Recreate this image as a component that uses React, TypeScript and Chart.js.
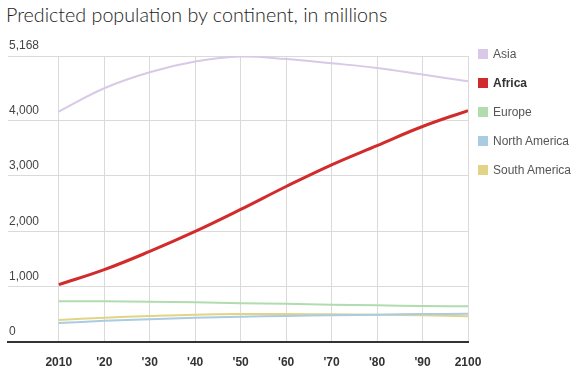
import React, { useEffect, useRef } from "react";
import { Chart, registerables } from "chart.js";

Chart.register(...registerables);

const YEARS = [2010, 2020, 2030, 2040, 2050, 2060, 2070, 2080, 2090, 2100];
const X_TICK_LABELS = ["2010", "'20", "'30", "'40", "'50", "'60", "'70", "'80", "'90", "2100"];
const Y_TICKS = [0, 1000, 2000, 3000, 4000, 5168];

const SERIES_NAMES = ["Asia", "Africa", "Europe", "North America", "South America"];
const ASIA = [4164, 4585, 4874, 5067, 5160, 5112, 5036, 4953, 4832, 4711];
const AFRICA = [1036, 1307, 1637, 1998, 2395, 2810, 3202, 3550, 3894, 4182];
const EUROPE = [738, 736, 729, 717, 700, 690, 675, 662, 650, 644];
const NORTH_AMERICA = [343, 382, 410, 436, 456, 470, 483, 494, 504, 512];
const SOUTH_AMERICA = [397, 440, 470, 494, 505, 506, 500, 494, 482, 464];
const SERIES_VALUES = [ASIA, AFRICA, EUROPE, NORTH_AMERICA, SOUTH_AMERICA];
const SERIES_COLORS = ["#d8c9e7", "#d22b2b", "#b0dcae", "#a9cbe3", "#e1d486"];
const SERIES_WIDTHS = [2, 3, 2, 2, 2];

const FONT = "'Liberation Sans', Arial, Helvetica, sans-serif";

export default function App() {
  const ref = useRef<HTMLCanvasElement>(null);

  useEffect(() => {
    const canvas = ref.current;
    if (!canvas) return;
    const chart = new Chart(canvas, {
      type: "line",
      data: {
        datasets: SERIES_NAMES.map((name, i) => ({
          label: name,
          data: YEARS.map((yr, j) => ({ x: yr, y: SERIES_VALUES[i][j] })),
          borderColor: SERIES_COLORS[i],
          backgroundColor: SERIES_COLORS[i],
          borderWidth: SERIES_WIDTHS[i],
          pointRadius: 0,
          tension: 0.4,
          fill: false,
          order: i === 1 ? 0 : 1,
        })),
      },
      options: {
        animation: false,
        responsive: false,
        maintainAspectRatio: false,
        layout: { padding: { left: 6, right: 110, top: 56, bottom: -8.4 } },
        plugins: {
          legend: { display: false },
          title: { display: false },
          tooltip: { enabled: false },
        },
        scales: {
          x: {
            type: "linear",
            min: 1998.83,
            max: 2100,
            afterBuildTicks: (s: any) => {
              s.ticks = YEARS.map((v) => ({ value: v }));
            },
            grid: { color: "#dadada", lineWidth: 1, drawTicks: false },
            border: { color: "#333333", width: 2 },
            ticks: {
              padding: 13,
              color: "#333333",
              font: { family: FONT, size: 12, weight: "bold" },
              maxRotation: 0,
              autoSkip: false,
              callback: (v: any) => {
                const k = YEARS.indexOf(Number(v));
                return k >= 0 ? X_TICK_LABELS[k] : "";
              },
            },
          },
          y: {
            min: 0,
            max: 5168,
            afterBuildTicks: (s: any) => {
              s.ticks = Y_TICKS.map((v) => ({ value: v }));
            },
            grid: {
              color: (ctx: any) => (ctx.tick && ctx.tick.value === 0 ? "rgba(0,0,0,0)" : "#dadada"),
              lineWidth: 1,
              drawTicks: false,
            },
            border: { display: false },
            ticks: {
              mirror: true,
              padding: 1,
              labelOffset: -10,
              color: "#444444",
              font: { family: FONT, size: 12 },
              callback: (v: any) => Number(v).toLocaleString("en-US"),
            },
          },
        },
      },
    });
    return () => chart.destroy();
  }, []);

  return (
    <div style={{ position: "absolute", left: 0, top: 0, width: 578, height: 374, background: "#fff" }}>
      <div
        style={{
          position: "absolute",
          left: 6,
          top: 4,
          fontFamily: "Lato, " + FONT,
          fontWeight: 300,
          fontSize: 19.7,
          lineHeight: "21px",
          color: "#222",
          whiteSpace: "nowrap",
        }}
      >
        Predicted population by continent, in millions
      </div>
      <canvas ref={ref} width={578} height={374} style={{ position: "absolute", left: 0, top: 0 }} />
      {SERIES_NAMES.map((name, i) => (
        <div
          key={name}
          style={{
            position: "absolute",
            left: 478,
            top: 54 + i * 29 - 8,
            height: 16,
            display: "flex",
            alignItems: "center",
            fontFamily: FONT,
            fontSize: 12,
            color: i === 1 ? "#333" : "#555",
            fontWeight: i === 1 ? "bold" : "normal",
            whiteSpace: "nowrap",
          }}
        >
          <span style={{ display: "inline-block", width: 10, height: 10, background: SERIES_COLORS[i], marginRight: 5 }} />
          {name}
        </div>
      ))}
    </div>
  );
}
